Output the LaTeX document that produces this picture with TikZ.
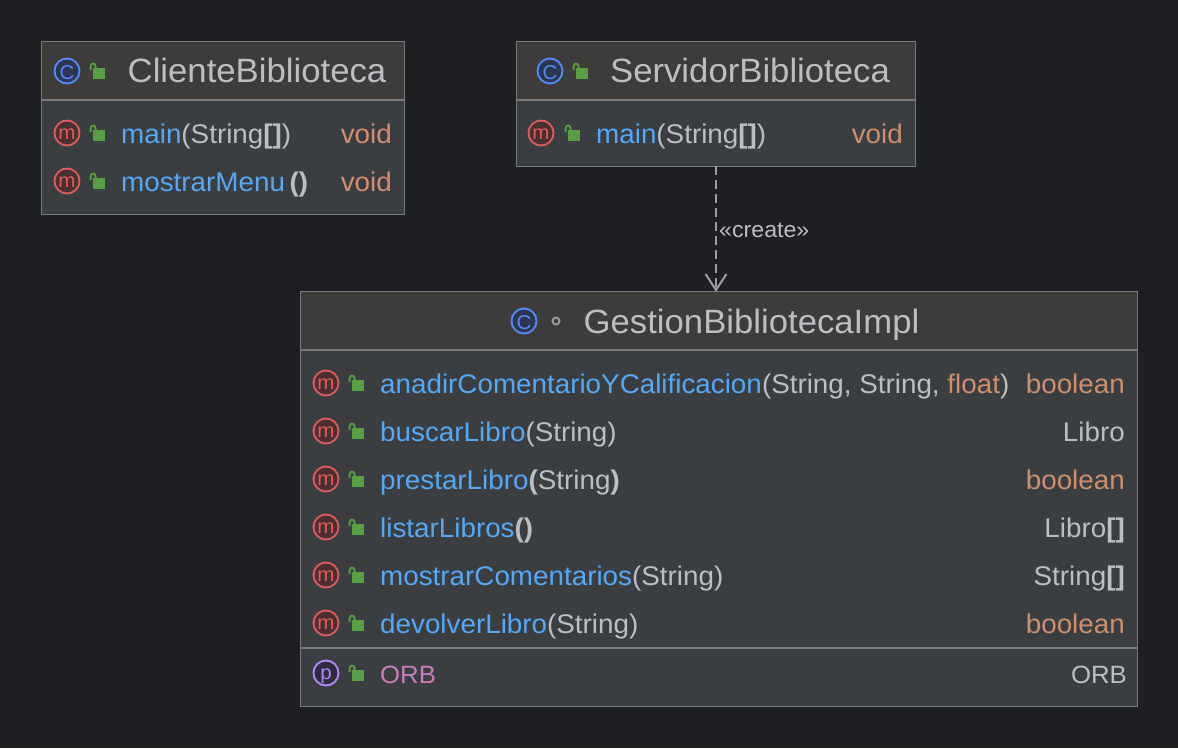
\documentclass[tikz,border=0pt]{standalone}
\usepackage{fontspec}
\setmainfont[FakeStretch=1.03]{Liberation Sans}
\usetikzlibrary{arrows.meta}
\definecolor{bgc}{HTML}{1E1F22}
\definecolor{headc}{HTML}{3D3C3B}
\definecolor{bodyc}{HTML}{3B3E41}
\definecolor{edgec}{HTML}{787A7C}
\definecolor{txt}{HTML}{BCBEC4}
\definecolor{blu}{HTML}{56A8F5}
\definecolor{ora}{HTML}{CF8E6D}
\definecolor{pnk}{HTML}{C77DBB}
\definecolor{grn}{HTML}{599E44}
\definecolor{iconb}{HTML}{548AF7}
\definecolor{iconbf}{HTML}{2C3650}
\definecolor{iconr}{HTML}{DB5C5C}
\definecolor{iconrf}{HTML}{4B2E2E}
\definecolor{iconp}{HTML}{B189F5}
\definecolor{iconpf}{HTML}{2F2A40}
\tikzset{
  classbox/.style={fill=bodyc,inner sep=0pt,rectangle},
  outline/.style={draw=edgec,line width=1.3pt},
  sepline/.style={draw=edgec,line width=1.6pt},
  title/.style={anchor=base,inner sep=0pt,text=txt,font=\fontsize{33.7}{34}\selectfont},
  member/.style={anchor=base west,inner sep=0pt,text=txt,font=\fontsize{27}{27}\selectfont},
  rettype/.style={anchor=base east,inner sep=0pt,text=ora,font=\fontsize{27}{27}\selectfont},
  icon/.style={circle,inner sep=0pt,minimum size=25pt,line width=1.9pt,font=\fontsize{20}{20}\selectfont},
  cicon/.style={icon,draw=iconb,fill=iconbf,text=iconb,text height=14pt,text depth=0pt},
  micon/.style={icon,draw=iconr,fill=iconrf,text=iconr,text height=10pt,text depth=0pt},
  picon/.style={icon,draw=iconp,fill=iconpf,text=iconp,text height=10pt,text depth=4pt},
}
\newcommand\lowr[1]{\raisebox{-1.5pt}{#1}}
\newcommand\lockat[2]{%
  \fill[grn] (#1-3.7,#2-3) rectangle (#1+8,#2+8);
  \draw[grn,line width=1.8pt] (#1-6.4,#2-1) -- (#1-6.4,#2-4.5) .. controls (#1-6.4,#2-8.5) and (#1-1.4,#2-8.5) .. (#1-1.4,#2-4.5) -- (#1-1.4,#2-2.5);
}
\newcommand\bl[1]{\textcolor{blu}{#1}}
\newcommand\kw[1]{\textcolor{ora}{#1}}
\begin{document}
\begin{tikzpicture}[x=1pt,y=-1pt]
\useasboundingbox (0,0) rectangle (1178,748);
\fill[bgc] (0,0) rectangle (1178,748);
% boxes
\node[classbox,minimum width=362pt,minimum height=172pt] (A) at (223,128) {};
\node[classbox,minimum width=398pt,minimum height=124pt] (B) at (716,104) {};
\node[classbox,minimum width=836pt,minimum height=414pt] (C) at (719,499) {};
% headers
\fill[headc] (A.north west) rectangle (A.east |- 0,100);
\fill[headc] (B.north west) rectangle (B.east |- 0,100);
\fill[headc] (C.north west) rectangle (C.east |- 0,350);
\draw[outline] (A.north west) rectangle (A.south east);
\draw[outline] (B.north west) rectangle (B.south east);
\draw[outline] (C.north west) rectangle (C.south east);
\draw[sepline] (A.west |- 0,100) -- (A.east |- 0,100);
\draw[sepline] (B.west |- 0,100) -- (B.east |- 0,100);
\draw[sepline] (C.west |- 0,350) -- (C.east |- 0,350);
\draw[sepline] (C.west |- 0,648) -- (C.east |- 0,648);
% class A
\node[cicon] (a0) at (67,71) {\lowr{C}}; \lockat{97}{71}
\node[title] (at) at (257,82.5) {ClienteBiblioteca};
\node[micon] (a1) at (67,133) {\lowr{m}}; \lockat{97}{133}
\node[member] (a1t) at (121,143) {\bl{main}(String\textbf{[]})};
\node[rettype] (a1r) at (392,143) {void};
\node[micon] (a2) at (67,181) {\lowr{m}}; \lockat{97}{181}
\node[member] (a2t) at (121,191) {\bl{mostrarMenu}\,\textbf{()}};
\node[rettype] (a2r) at (392,191) {void};
% class B
\node[cicon] (b0) at (550,71) {\lowr{C}}; \lockat{580}{71}
\node[title] (bt) at (750,82.5) {ServidorBiblioteca};
\node[micon] (b1) at (541,133) {\lowr{m}}; \lockat{572}{133}
\node[member] (b1t) at (596,143) {\bl{main}(String\textbf{[]})};
\node[rettype] (b1r) at (903,143) {void};
% class C
\node[cicon] (c0) at (524,321) {\lowr{C}};
\node[circle,draw=txt!70!bodyc,line width=2pt,minimum size=7pt,inner sep=0pt] (cd) at (556,321) {};
\node[title] (ct) at (751.5,333.5) {GestionBibliotecaImpl};
\node[micon] (c1) at (326,383) {\lowr{m}}; \lockat{356}{383}
\node[member] (c1t) at (380,393) {\bl{anadirComentarioYCalificacion}(String, String, \kw{float})};
\node[rettype] (c1r) at (1125,393) {boolean};
\node[micon] (c2) at (326,431) {\lowr{m}}; \lockat{356}{431}
\node[member] (c2t) at (380,441) {\bl{buscarLibro}(String)};
\node[rettype,text=txt] (c2r) at (1125,441) {Libro};
\node[micon] (c3) at (326,479) {\lowr{m}}; \lockat{356}{479}
\node[member] (c3t) at (380,489) {\bl{prestarLibro}\textbf{(}String\textbf{)}};
\node[rettype] (c3r) at (1125,489) {boolean};
\node[micon] (c4) at (326,527) {\lowr{m}}; \lockat{356}{527}
\node[member] (c4t) at (380,537) {\bl{listarLibros}\textbf{()}};
\node[rettype,text=txt] (c4r) at (1125,537) {Libro\textbf{[]}};
\node[micon] (c5) at (326,575) {\lowr{m}}; \lockat{356}{575}
\node[member] (c5t) at (380,585) {\bl{mostrarComentarios}(String)};
\node[rettype,text=txt] (c5r) at (1125,585) {String\textbf{[]}};
\node[micon] (c6) at (326,623) {\lowr{m}}; \lockat{356}{623}
\node[member] (c6t) at (380,633) {\bl{devolverLibro}(String)};
\node[rettype] (c6r) at (1125,633) {boolean};
\node[picon] (c7) at (326,673) {\raisebox{-3pt}{p}}; \lockat{356}{673}
\node[member,text=pnk,font=\fontsize{25}{25}\selectfont] (c7t) at (380,683) {ORB};
\node[rettype,text=txt,font=\fontsize{25}{25}\selectfont] (c7r) at (1127,683) {ORB};
% connector
\draw[draw=txt!80!bgc,line width=2pt,dash pattern=on 9pt off 5pt,-{Straight Barb[length=16pt,width=21pt,line width=2pt]}] (B.south) -- (B.south |- C.north);
\node[anchor=base west,inner sep=0pt,text=txt,font=\fontsize{22.5}{23}\selectfont] (lab) at (719,237) {«create»};
\end{tikzpicture}
\end{document}
